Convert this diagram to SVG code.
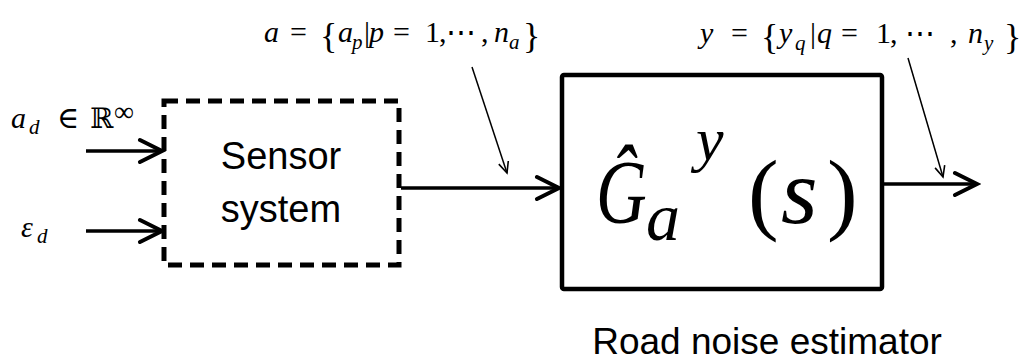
<svg xmlns="http://www.w3.org/2000/svg" width="1025" height="363" viewBox="0 0 1025 363">
<style>
.m{font-family:"Liberation Serif","DejaVu Serif",serif;font-style:italic;fill:#000}
.u{font-family:"Liberation Serif","DejaVu Serif",serif;font-style:normal;fill:#000}
.s{font-family:"Liberation Sans",Arial,sans-serif;fill:#000}
.thick{stroke:#000;stroke-width:3.5;fill:none}
.thin{stroke:#000;stroke-width:1.5;fill:none}
</style>
<defs>
<marker id="big" markerUnits="userSpaceOnUse" viewBox="-26 -14 30 28" refX="0" refY="0" markerWidth="30" markerHeight="28" orient="auto">
<path d="M-22,-11 L0,0 L-22,11" fill="none" stroke="#000" stroke-width="4" stroke-linecap="round" stroke-linejoin="miter"/>
</marker>
<marker id="small" markerUnits="userSpaceOnUse" viewBox="-14 -8 16 16" refX="0" refY="0" markerWidth="16" markerHeight="16" orient="auto">
<path d="M-11,-5 L0,0 L-11,5" fill="none" stroke="#000" stroke-width="1.6"/>
</marker>
</defs>

<g id="label-ad">
<text class="m" x="11" y="128" font-size="30">a</text>
<text class="m" x="29" y="134" font-size="21">d</text>
<text class="u" x="57" y="128" font-size="30">∈</text>
<text class="u" x="90" y="128" font-size="28">ℝ</text>
<text class="u" x="114" y="121" font-size="28">∞</text>
</g>

<g id="label-eps">
<text class="m" x="21" y="237" font-size="30">ε</text>
<text class="m" x="37" y="243" font-size="21">d</text>
</g>

<g id="label-a">
<text class="m" x="264" y="42" font-size="30">a</text>
<text class="u" x="290" y="42" font-size="30">=</text>
<text class="u" x="320" y="48" font-size="36">{</text>
<text class="m" x="338" y="42" font-size="30">a</text>
<text class="m" x="352" y="49" font-size="21">p</text>
<text class="u" x="364" y="42" font-size="30">|</text>
<text class="m" x="369" y="42" font-size="30">p</text>
<text class="u" x="393" y="42" font-size="30">=</text>
<text class="u" x="425" y="42" font-size="30">1</text>
<text class="u" x="439" y="42" font-size="30">,</text>
<text class="u" x="446" y="42" font-size="30">⋯</text>
<text class="u" x="481" y="42" font-size="30">,</text>
<text class="m" x="494" y="42" font-size="30">n</text>
<text class="m" x="509" y="49" font-size="21">a</text>
<text class="u" x="523" y="48" font-size="36">}</text>
</g>

<g id="label-y">
<text class="m" x="700" y="43" font-size="30">y</text>
<text class="u" x="731" y="43" font-size="30">=</text>
<text class="u" x="761" y="49" font-size="36">{</text>
<text class="m" x="779" y="43" font-size="30">y</text>
<text class="m" x="795" y="50" font-size="21">q</text>
<text class="u" x="810" y="43" font-size="30">|</text>
<text class="m" x="817" y="43" font-size="30">q</text>
<text class="u" x="841" y="43" font-size="30">=</text>
<text class="u" x="876" y="43" font-size="30">1</text>
<text class="u" x="890" y="43" font-size="30">,</text>
<text class="u" x="905" y="43" font-size="30">⋯</text>
<text class="u" x="950" y="43" font-size="30">,</text>
<text class="m" x="968" y="43" font-size="30">n</text>
<text class="m" x="984" y="50" font-size="21">y</text>
<text class="u" x="1004" y="49" font-size="36">}</text>
</g>

<g id="sensor">
<rect x="164" y="101" width="235" height="164" fill="none" stroke="#000" stroke-width="5" stroke-dasharray="14 8"/>
<text class="s" x="281" y="169" font-size="38" text-anchor="middle">Sensor</text>
<text class="s" x="281" y="222" font-size="38" text-anchor="middle">system</text>
</g>

<g id="estimator">
<rect x="562" y="75" width="320" height="214" rx="2" fill="none" stroke="#000" stroke-width="4.5"/>
<text class="m" transform="translate(596 223) scale(0.78 1)" x="0" y="0" font-size="90">Ĝ</text>
<text class="m" x="646" y="240" font-size="68">a</text>
<text class="m" x="696" y="160" font-size="62">y</text>
<text class="u" x="748" y="223" font-size="92">(</text>
<text class="m" x="781" y="223" font-size="94">s</text>
<text class="u" x="827" y="223" font-size="92">)</text>
<text class="s" x="767" y="354" font-size="37" text-anchor="middle">Road noise estimator</text>
</g>

<g id="connectors">
<line class="thick" x1="86" y1="151" x2="162" y2="151" marker-end="url(#big)"/>
<line class="thick" x1="86" y1="231" x2="162" y2="231" marker-end="url(#big)"/>
<line class="thick" x1="401" y1="188" x2="559" y2="188" marker-end="url(#big)"/>
<line class="thick" x1="884" y1="184" x2="977" y2="184" marker-end="url(#big)"/>
<line class="thin" x1="472" y1="67" x2="507" y2="173" marker-end="url(#small)"/>
<line class="thin" x1="908" y1="58" x2="943" y2="177" marker-end="url(#small)"/>
</g>
</svg>
